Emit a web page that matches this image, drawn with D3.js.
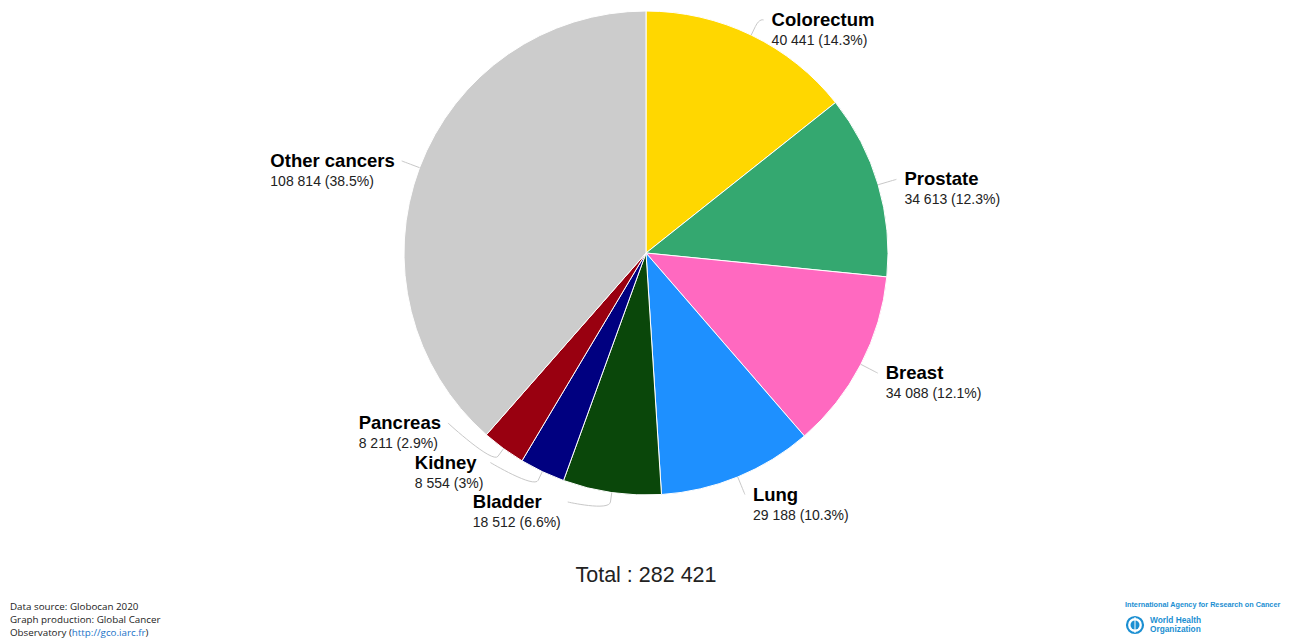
<!DOCTYPE html>
<html>
<head>
<meta charset="utf-8">
<script src="https://cdn.jsdelivr.net/npm/d3@7"></script>
<style>
  html, body { margin: 0; padding: 0; background: #fff; }
  svg { display: block; }
</style>
</head>
<body>
<svg id="chart" width="1297" height="638"></svg>
<script>
// ---- data ----
const categories = ["Colorectum", "Prostate", "Breast", "Lung", "Bladder", "Kidney", "Pancreas", "Other cancers"];
const values = [40441, 34613, 34088, 29188, 18512, 8554, 8211, 108814];
const percentLabels = ["14.3%", "12.3%", "12.1%", "10.3%", "6.6%", "3%", "2.9%", "38.5%"];
const colors = ["#FFD700", "#34A870", "#FF69C0", "#1E90FF", "#0A470A", "#000080", "#990010", "#CCCCCC"];
const totalLabel = "Total : 282 421";

const fmt = v => d3.format(",")(v).replace(/,/g, " ");

const svg = d3.select("#chart");
const cx = 646, cy = 253, R = 242;
const labelDist = 19;
const rl = R + labelDist;

const pie = d3.pie().sort(null).value(d => d.value);
const data = categories.map((c, i) => ({ name: c, value: values[i], pct: percentLabels[i], color: colors[i] }));
const arcs = pie(data);
const arc = d3.arc().innerRadius(0).outerRadius(R);

const g = svg.append("g").attr("transform", `translate(${cx},${cy})`);
g.selectAll("path.slice").data(arcs).join("path")
  .attr("class", "slice")
  .attr("d", arc)
  .attr("fill", d => d.data.color)
  .attr("stroke", "#ffffff")
  .attr("stroke-width", 1);

// ---- label layout (Highcharts-like) ----
const items = arcs.map(a => {
  const mid = (a.startAngle + a.endAngle) / 2;
  return {
    a, mid,
    left: Math.sin(mid) < 0,
    ideal: -rl * Math.cos(mid),
    touch: [R * Math.sin(mid), -R * Math.cos(mid)],
    brk: [(R + labelDist / 2) * Math.sin(mid), -(R + labelDist / 2) * Math.cos(mid)]
  };
});
const spacing = 39.5;
const topBound = 20 - cy, bottomBound = 502 - cy;
[true, false].forEach(side => {
  const list = items.filter(d => d.left === side).sort((p, q) => p.ideal - q.ideal);
  list.forEach((d, i) => {
    d.y = Math.max(d.ideal, topBound, i ? list[i - 1].y + spacing : -Infinity);
  });
  for (let i = list.length - 1; i >= 0; i--) {
    const lim = i < list.length - 1 ? list[i + 1].y - spacing : bottomBound;
    list[i].y = Math.min(list[i].y, lim);
  }
});
items.forEach(d => {
  const dx = Math.sqrt(Math.max(0, rl * rl - d.y * d.y));
  d.x = d.left ? -dx : dx;
});

const lg = g.append("g");
lg.selectAll("path.conn").data(items).join("path")
  .attr("class", "conn")
  .attr("fill", "none")
  .attr("stroke", "#c8c8c8")
  .attr("stroke-width", 1)
  .attr("d", d => {
    const x = d.x, y = d.y;
    const c2x = 2 * d.brk[0] - d.touch[0], c2y = 2 * d.brk[1] - d.touch[1];
    return `M${x},${y}C${x},${y},${c2x},${c2y},${d.brk[0]},${d.brk[1]}L${d.touch[0]},${d.touch[1]}`;
  });

const labels = lg.selectAll("g.lab").data(items).join("g").attr("class", "lab");
labels.each(function (d) {
  const gg = d3.select(this);
  const t1 = gg.append("text")
    .attr("font-family", "'Liberation Sans', Arial, sans-serif")
    .attr("font-size", 18.5).attr("font-weight", "bold").attr("fill", "#000")
    .attr("y", d.y + 6)
    .text(d.a.data.name);
  const t2 = gg.append("text")
    .attr("font-family", "'Liberation Sans', Arial, sans-serif")
    .attr("font-size", 14).attr("fill", "#222")
    .attr("y", d.y + 25)
    .text(`${fmt(d.a.data.value)} (${d.a.data.pct})`);
  let x0;
  if (d.left) {
    const w = Math.max(t1.node().getComputedTextLength(), t2.node().getComputedTextLength());
    x0 = d.x - 7 - w;
  } else {
    x0 = d.x + 8;
  }
  t1.attr("x", x0); t2.attr("x", x0);
});

// ---- total ----
svg.append("text")
  .attr("x", cx).attr("y", 582)
  .attr("text-anchor", "middle")
  .attr("font-family", "'Liberation Sans', Arial, sans-serif")
  .attr("font-size", 21.5).attr("fill", "#222")
  .text(totalLabel);

// ---- footer ----
const foot = svg.append("g").attr("font-family", "'Open Sans', 'DejaVu Sans', sans-serif").attr("font-size", 9.8).attr("fill", "#222");
foot.append("text").attr("x", 10).attr("y", 610).text("Data source: Globocan 2020");
foot.append("text").attr("x", 10).attr("y", 623).text("Graph production: Global Cancer");
const t3 = foot.append("text").attr("x", 10).attr("y", 636);
t3.append("tspan").text("Observatory (");
t3.append("tspan").attr("fill", "#1a73c8").text("http://gco.iarc.fr");
t3.append("tspan").text(")");

const blue = "#1B8FD2";
const logo = svg.append("g").attr("font-family", "'Liberation Sans', Arial, sans-serif").attr("fill", blue);
logo.append("text").attr("x", 1125).attr("y", 607).attr("font-size", 7.25).attr("font-weight", "bold")
  .text("International Agency for Research on Cancer");
const em = logo.append("g").attr("transform", "translate(1135,625)");
em.append("circle").attr("r", 8).attr("fill", "none").attr("stroke", blue).attr("stroke-width", 2.2);
em.append("circle").attr("r", 4.5).attr("fill", blue);
em.append("line").attr("x1", 0).attr("y1", -8).attr("x2", 0).attr("y2", 8).attr("stroke", "#fff").attr("stroke-width", 1);
logo.append("text").attr("x", 1150).attr("y", 623).attr("font-size", 8.3).attr("font-weight", "bold").text("World Health");
logo.append("text").attr("x", 1150).attr("y", 632).attr("font-size", 8.3).attr("font-weight", "bold").text("Organization");
</script>
</body>
</html>
